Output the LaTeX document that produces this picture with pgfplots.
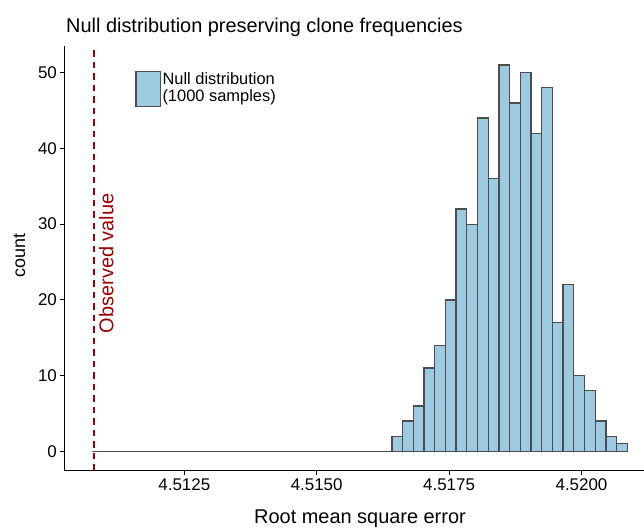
\documentclass[border=0pt]{standalone}
\usepackage{fontspec}
\setmainfont{Liberation Sans}
\usepackage{pgfplots}
\pgfplotsset{compat=1.18}
\definecolor{barfill}{HTML}{9ECAE1}
\definecolor{bardraw}{HTML}{4D4D4D}
\definecolor{obsred}{HTML}{9A0000}
\begin{document}
\begin{tikzpicture}[x=1bp,y=1bp]
\useasboundingbox (0,0) rectangle (644,529);
\begin{axis}[
  at={(64.7bp,58.3bp)}, anchor=south west,
  scale only axis, width=590.6bp, height=424.9bp,
  xmin=4.510242, xmax=4.521394, ymin=-2.55, ymax=53.55,
  axis x line*=bottom, axis y line*=left,
  axis line style={black, line width=1.1bp, -},
  xtick={4.5125,4.5150,4.5175,4.5200},
  xticklabels={4.5125,4.5150,4.5175,4.5200},
  ytick={0,10,20,30,40,50},
  scaled x ticks=false,
  tick align=outside, major tick length=4.3bp,
  tick style={black, line width=1.1bp},
  ticklabel style={font=\fontsize{17}{19}\selectfont},
  /pgf/number format/assume math mode=true,
  xlabel={Root mean square error}, ylabel={count},
  xlabel style={font=\fontsize{20}{22}\selectfont, at={(axis description cs:0.5,0)}, anchor=base, yshift=-52.6bp},
  ylabel style={font=\fontsize{18}{20}\selectfont, at={(axis description cs:-0.0672,0.5058)}, anchor=base},
  clip=false,
]
\addplot[ybar interval, fill=barfill, draw=bardraw, line width=1.3bp] coordinates {
(4.510764,0)
(4.516420,2) (4.516622,4) (4.516824,6) (4.517026,11) (4.517228,14)
(4.517430,20) (4.517632,32) (4.517834,30) (4.518036,44) (4.518238,36)
(4.518440,51) (4.518642,46) (4.518844,50) (4.519046,42) (4.519248,48)
(4.519450,17) (4.519652,22) (4.519854,10) (4.520056,8) (4.520258,4)
(4.520460,2) (4.520662,1) (4.520864,0)
};
\addplot[obsred, dash pattern=on 6.5bp off 5bp, line width=1.8bp] coordinates {(4.5108,-2.55) (4.5108,53.55)};
\node[rotate=90, anchor=base west, inner sep=0pt, text=obsred, font=\fontsize{20}{22}\selectfont] at (axis cs:4.511160,15.59) {Observed value};
\end{axis}
\draw[fill=barfill, draw=bardraw, line width=1.3bp] (136,422.3) rectangle (160.7,457.3);
\node[anchor=base west, inner sep=0pt, font=\fontsize{16.5}{19}\selectfont] at (162.3,444.5) {Null distribution};
\node[anchor=base west, inner sep=0pt, font=\fontsize{16.5}{19}\selectfont] at (162.3,427.5) {(1000 samples)};
\node[anchor=base west, inner sep=0pt, font=\fontsize{20}{22}\selectfont] at (66,496.7) {Null distribution preserving clone frequencies};
\end{tikzpicture}
\end{document}
